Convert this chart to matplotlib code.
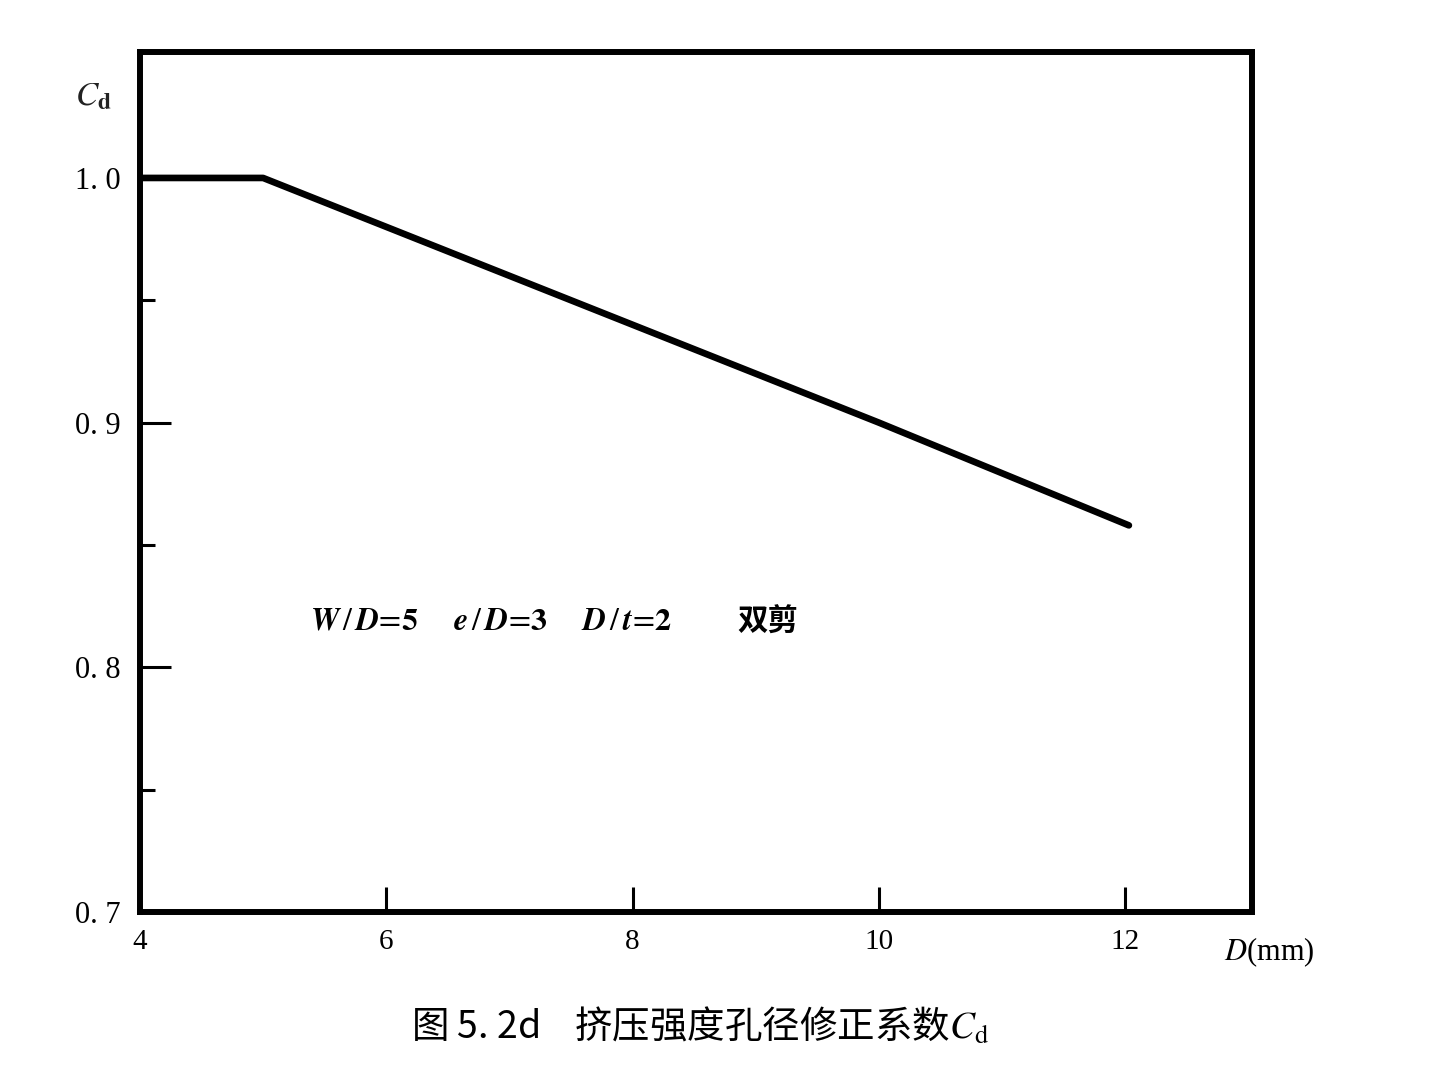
import matplotlib; matplotlib.use("Agg")
import matplotlib.pyplot as plt
from matplotlib.ticker import FixedLocator

plt.rcParams['font.family'] = ['Liberation Serif', 'Noto Sans CJK SC', 'DejaVu Sans']
plt.rcParams['mathtext.fontset'] = 'stix'

# hole diameter D (mm) vs bearing-strength correction factor Cd
D_MM = [4, 5, 6, 8, 10, 12.03]
CD = [1.0, 1.0, 0.98, 0.94, 0.90, 0.858]
XTICKS = [4, 6, 8, 10, 12]
XLABELS = ["4", "6", "8", "10", "12"]
YTICKS = [0.7, 0.8, 0.9, 1.0]
YLABELS = ["0. 7", "0. 8", "0. 9", "1. 0"]
YMINOR = [0.75, 0.85, 0.95]

fig = plt.figure(figsize=(14.37, 10.8), dpi=100)
ax = fig.add_axes([0.0974, 0.1556, 0.7739, 0.7963])

ax.plot(D_MM, CD, color="black", lw=4.8, solid_capstyle="round", solid_joinstyle="round")
ax.set_xlim(4, 13.03)
ax.set_ylim(0.7, 1.0515)

for s in ax.spines.values():
    s.set_linewidth(4.3)

ax.set_xticks(XTICKS)
ax.set_xticklabels(XLABELS)
ax.set_yticks(YTICKS)
ax.set_yticklabels(YLABELS)
ax.yaxis.set_minor_locator(FixedLocator(YMINOR))
ax.tick_params(axis="y", which="major", direction="in", length=22, width=2.2,
               labelsize=22, pad=14)
ax.tick_params(axis="y", which="minor", direction="in", length=11, width=2.2)
ax.tick_params(axis="x", which="major", direction="in", length=18, width=2.2,
               labelsize=21, pad=12)

fig.text(0.052, 0.91, r"$C_{\mathbf{d}}$", fontsize=24, ha="left", va="center", color="#222222")
fig.text(0.852, 0.118, r"$D$(mm)", fontsize=22, ha="left", va="center")

fig.text(0.2157, 0.424,
         r"$\mathbfit{W}\,/\,\mathbfit{D}\!=\!\mathbf{5}\quad\;\; \mathbfit{e}\,/\,\mathbfit{D}\!=\!\mathbf{3}\quad\;\; \mathbfit{D}\,/\,\mathbfit{t}\!=\!\mathbf{2}$",
         fontsize=23, ha="left", va="center")
fig.text(0.513, 0.424, "双剪", fontsize=22, fontweight="bold", ha="left", va="center",
         family=['Noto Sans CJK SC', 'DejaVu Sans'])

fig.text(0.487, 0.049, "图 5. 2d    挤压强度孔径修正系数" + r"$C_{\rm d}$", fontsize=27,
         ha="center", va="center", family=['Noto Sans CJK SC', 'DejaVu Sans'])

fig.savefig("out.png", dpi=100)
